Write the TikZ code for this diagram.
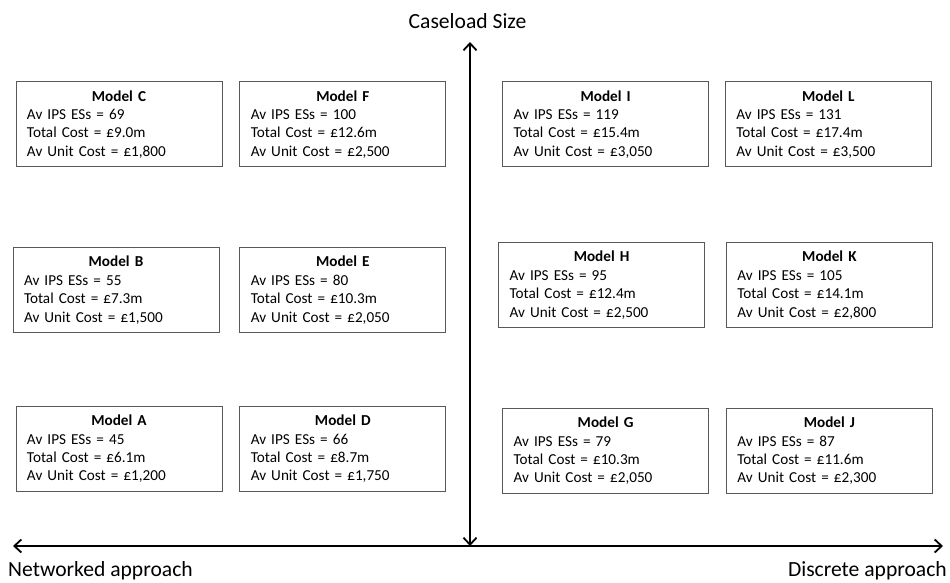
\documentclass[tikz,border=0pt]{standalone}
\usepackage{fontspec}
\setmainfont{Carlito}
\usepackage{xcolor}
\usepackage{tikz}
\usetikzlibrary{positioning,arrows.meta}

\begin{document}
\begin{tikzpicture}[x=1pt,y=1pt,>={Straight Barb[length=7pt,width=13pt]},
  model/.style={draw=black!65,line width=0.8pt,rectangle,minimum width=206pt,minimum height=85pt,
    text width=184pt,inner xsep=11pt,inner ysep=3pt,align=left,
    font=\fontsize{15.2}{18.4}\selectfont},
  axislabel/.style={font=\fontsize{21.6}{24}\selectfont,inner sep=0pt}]
  \useasboundingbox (0,0) rectangle (950,582);
  % Bottom row: left to right
  \node[model] (A) at (119,133) {\hfill\textbf{Model A}\hfill\null\\Av IPS ESs = 45\\Total Cost = £6.1m\\Av Unit Cost = £1,200};
  \node[model] (D) [right=17pt of A] {\hfill\textbf{Model D}\hfill\null\\Av IPS ESs = 66\\Total Cost = £8.7m\\Av Unit Cost = £1,750};
  \node[model] (G) [right=56pt of D,yshift=-2pt] {\hfill\textbf{Model G}\hfill\null\\Av IPS ESs = 79\\Total Cost = £10.3m\\Av Unit Cost = £2,050};
  \node[model] (J) [right=17pt of G] {\hfill\textbf{Model J}\hfill\null\\Av IPS ESs = 87\\Total Cost = £11.6m\\Av Unit Cost = £2,300};
  % Middle row
  \node[model] (B) [above=73pt of A,xshift=-3pt] {\hfill\textbf{Model B}\hfill\null\\Av IPS ESs = 55\\Total Cost = £7.3m\\Av Unit Cost = £1,500};
  \node[model] (E) [right=20pt of B] {\hfill\textbf{Model E}\hfill\null\\Av IPS ESs = 80\\Total Cost = £10.3m\\Av Unit Cost = £2,050};
  \node[model] (H) [above=80pt of G,xshift=-4pt] {\hfill\textbf{Model H}\hfill\null\\Av IPS ESs = 95\\Total Cost = £12.4m\\Av Unit Cost = £2,500};
  \node[model] (K) [right=21pt of H] {\hfill\textbf{Model K}\hfill\null\\Av IPS ESs = 105\\Total Cost = £14.1m\\Av Unit Cost = £2,800};
  % Top row
  \node[model] (C) [above=80pt of B,xshift=3pt] {\hfill\textbf{Model C}\hfill\null\\Av IPS ESs = 69\\Total Cost = £9.0m\\Av Unit Cost = £1,800};
  \node[model] (F) [right=17pt of C] {\hfill\textbf{Model F}\hfill\null\\Av IPS ESs = 100\\Total Cost = £12.6m\\Av Unit Cost = £2,500};
  \node[model] (I) [above=75pt of H,xshift=4pt] {\hfill\textbf{Model I}\hfill\null\\Av IPS ESs = 119\\Total Cost = £15.4m\\Av Unit Cost = £3,050};
  \node[model] (L) [right=16pt of I] {\hfill\textbf{Model L}\hfill\null\\Av IPS ESs = 131\\Total Cost = £17.4m\\Av Unit Cost = £3,500};

  % Axes
  \coordinate (origin) at (470,36);
  \coordinate (ytop) at (470,540);
  \coordinate (xleft) at (13,36);
  \coordinate (xright) at (943,36);
  \node[axislabel,anchor=base] (size) at (467.5,553) {Caseload Size};
  \node[axislabel,anchor=base west] (networked) at (8,6) {Networked approach};
  \node[axislabel,anchor=base east] (discrete) at (947,6) {Discrete approach};

  \draw[<->,line width=1.8pt] (xleft) -- (xright);
  \draw[<->,line width=1.8pt] (origin) -- (ytop);
\end{tikzpicture}
\end{document}
